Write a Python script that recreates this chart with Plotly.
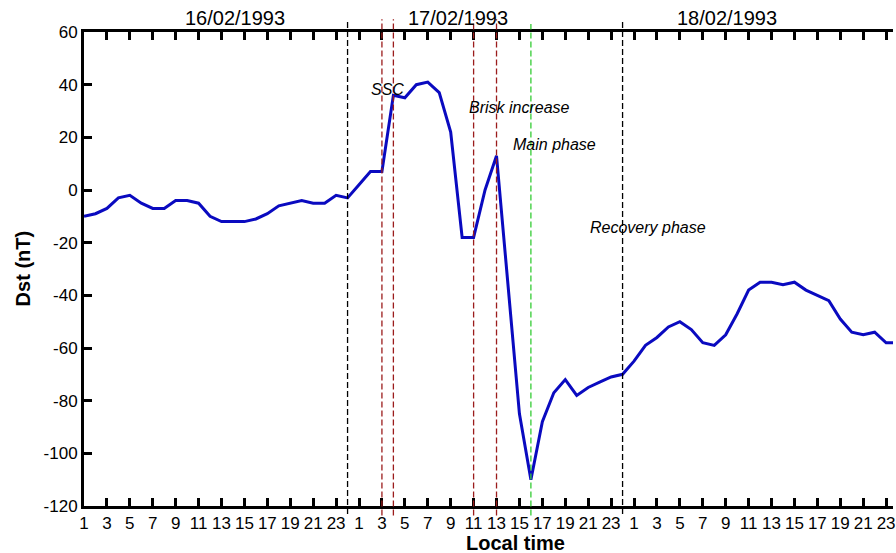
import plotly.graph_objects as go

# ---- data ----
hour_index = list(range(1, 73))
dst_values = [-10, -9, -7, -3, -2, -5, -7, -7, -4, -4, -5, -10, -12, -12, -12, -11, -9, -6, -5, -4, -5, -5, -2, -3,
              2, 7, 7, 36, 35, 40, 41, 37, 22, -18, -18, 0, 13, -35, -85, -110, -88, -77, -72, -78, -75, -73, -71, -70,
              -65, -59, -56, -52, -50, -53, -58, -59, -55, -47, -38, -35, -35, -36, -35, -38, -40, -42, -49, -54, -55, -54, -58, -58]
tick_positions = list(range(1, 73, 2))
tick_labels = [str((i - 1) % 24 + 1) for i in tick_positions]
y_ticks = [60, 40, 20, 0, -20, -40, -60, -80, -100, -120]
y_tick_labels = [str(v) for v in y_ticks]

day_lines = [24, 48]          # black dashed
event_lines = [27, 28, 35, 37]  # dark red dashed
min_line = [40]              # green dashed

day_labels = ["16/02/1993", "17/02/1993", "18/02/1993"]
day_label_pos = [14.2, 33.65, 57.1]

phase_labels = ["SSC", "Brisk increase", "Main phase", "Recovery phase"]
phase_x = [27.5, 39.0, 42.1, 50.2]
phase_y = [38, 31.3, 17.3, -14.2]

FONT = "Liberation Sans, Arial, sans-serif"

fig = go.Figure()
fig.add_trace(go.Scatter(x=hour_index, y=dst_values, mode="lines",
                         line=dict(color="#0a0ac0", width=3), showlegend=False))

shapes = []
for xv in day_lines:
    shapes.append(dict(type="line", xref="x", yref="paper", x0=xv, x1=xv, y0=-0.017, y1=1.027,
                       line=dict(color="black", width=1.3, dash="6px,3px")))
for xv in event_lines:
    shapes.append(dict(type="line", xref="x", yref="paper", x0=xv, x1=xv, y0=-0.02, y1=1.027,
                       line=dict(color="#9b1c1c", width=1.3, dash="6px,3px")))
for xv in min_line:
    shapes.append(dict(type="line", xref="x", yref="paper", x0=xv, x1=xv, y0=-0.02, y1=1.017,
                       line=dict(color="#33cc33", width=1.3, dash="6px,3px")))

annotations = []
for lab, xv in zip(day_labels, day_label_pos):
    annotations.append(dict(text=lab, x=xv, xref="x", y=1.03, yref="paper", showarrow=False,
                            xanchor="center", yanchor="middle", font=dict(family=FONT, size=20, color="black")))
for lab, xv, yv in zip(phase_labels, phase_x, phase_y):
    annotations.append(dict(text="<i>" + lab + "</i>", x=xv, y=yv, xref="x", yref="y", showarrow=False,
                            xanchor="center", yanchor="middle", font=dict(family=FONT, size=16, color="black")))
annotations.append(dict(text="<b>Dst (nT)</b>", x=-0.075, y=0.502, xref="paper", yref="paper", showarrow=False,
                        textangle=-90, xanchor="center", yanchor="middle",
                        font=dict(family=FONT, size=20, color="black")))
annotations.append(dict(text="<b>Local time</b>", x=0.533, y=-0.0774, xref="paper", yref="paper", showarrow=False,
                        xanchor="center", yanchor="middle", font=dict(family=FONT, size=20, color="black")))

fig.update_layout(
    width=896, height=553,
    margin=dict(l=84, r=0, t=32, b=47),
    paper_bgcolor="white", plot_bgcolor="white",
    shapes=shapes, annotations=annotations,
    xaxis=dict(range=[1, 71.6], tickvals=tick_positions, ticktext=tick_labels,
               showline=True, linecolor="black", linewidth=3, mirror="ticks",
               ticks="inside", ticklen=8, tickwidth=3, tickcolor="black",
               showgrid=False, zeroline=False, ticklabeloverflow="allow",
               tickfont=dict(family=FONT, size=17, color="black")),
    yaxis=dict(range=[-120, 60], tickvals=y_ticks, ticktext=y_tick_labels,
               showline=True, linecolor="black", linewidth=3, mirror=False,
               ticks="inside", ticklen=8, tickwidth=3, tickcolor="black",
               showgrid=False, zeroline=False,
               tickfont=dict(family=FONT, size=17, color="black")),
    yaxis2=dict(range=[-120, 60], tickvals=y_ticks, overlaying="y", side="right",
                showline=False, showticklabels=False,
                ticks="inside", ticklen=8, tickwidth=3, tickcolor="black",
                showgrid=False, zeroline=False),
)

fig.write_html("out.html", config={"displayModeBar": False},
               post_script="document.body.style.margin='0';document.body.style.padding='0';")
